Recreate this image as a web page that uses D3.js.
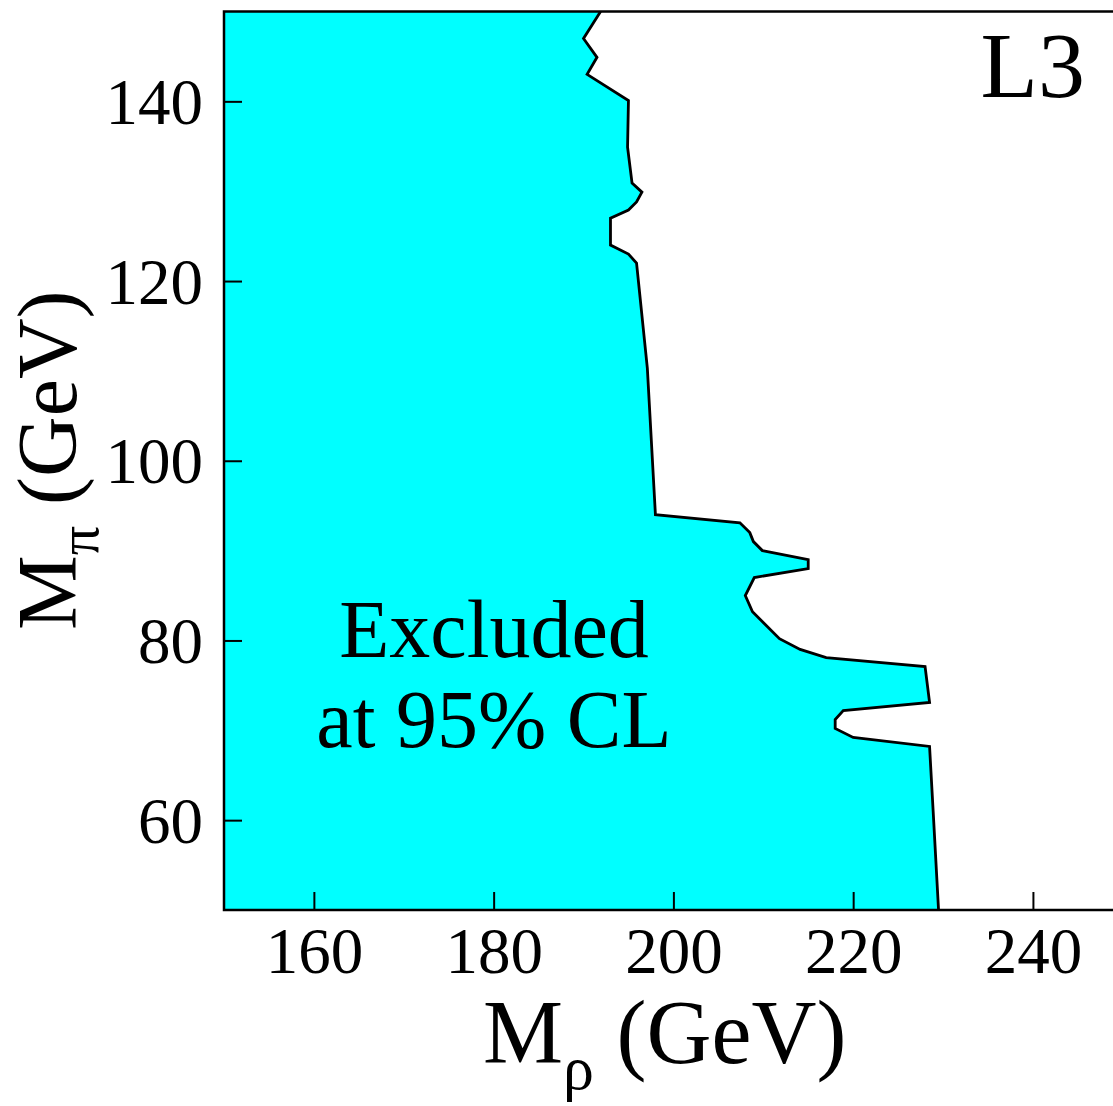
<!DOCTYPE html>
<html>
<head>
<meta charset="utf-8">
<script src="https://cdn.jsdelivr.net/npm/d3@7"></script>
<style>
  body { margin: 0; background: #fff; }
  text { font-family: "Liberation Serif", "Times New Roman", serif; fill: #000; }
</style>
</head>
<body>
<svg width="1113" height="1106"></svg>
<script>
var svg = d3.select("svg"),
    width = +svg.attr("width"),
    height = +svg.attr("height");

// exclusion contour (M_rho, M_pi in GeV)
var boundaryMrho = [191.9, 190.0, 191.5, 190.4, 195.0, 194.9, 195.4, 196.5, 195.9, 195.0,
                    193.0, 193.0, 195.0, 195.9, 197.1, 198.0, 207.4, 208.5, 208.9, 209.9,
                    215.0, 215.0, 209.0, 208.0, 208.8, 211.8, 214.1, 217.0, 228.0, 228.5,
                    218.9, 218.0, 218.0, 220.0, 228.5, 228.9, 229.5];
var boundaryMpi  = [150.0, 147.0, 144.9, 143.0, 140.1, 134.9, 130.9, 129.9, 128.8, 127.9,
                    127.0, 124.0, 123.0, 122.0, 110.3, 94.0, 93.1, 92.0, 91.0, 90.0,
                    89.0, 88.0, 87.0, 85.0, 83.2, 80.2, 79.0, 78.1, 77.1, 73.1,
                    72.2, 71.2, 70.2, 69.2, 68.2, 61.0, 50.0];

var xTicks = [160, 180, 200, 220, 240];
var yTicks = [60, 80, 100, 120, 140];

var xDomain = [150, 250];
var yDomain = [50, 150];

var x = d3.scaleLinear().domain(xDomain).range([224, 1122.8]);
var y = d3.scaleLinear().domain(yDomain).range([910, 11.5]);

var pts = boundaryMrho.map(function(d, i) { return [d, boundaryMpi[i]]; });

var line = d3.line()
    .x(function(d) { return x(d[0]); })
    .y(function(d) { return y(d[1]); });

// filled excluded region: contour closed along the left side
var poly = pts.concat([[xDomain[0], yDomain[0]], [xDomain[0], yDomain[1]]]);

svg.append("path")
    .attr("d", line(poly) + "Z")
    .attr("fill", "#00ffff")
    .attr("stroke", "none");

svg.append("path")
    .attr("d", line(pts))
    .attr("fill", "none")
    .attr("stroke", "#000")
    .attr("stroke-width", 2.8);

// axes: inward ticks, no default domain path
var xAxis = svg.append("g")
    .attr("transform", "translate(0," + y(yDomain[0]) + ")")
    .call(d3.axisBottom(x).tickValues(xTicks).tickSizeInner(-18).tickSizeOuter(0).tickPadding(0));
xAxis.select(".domain").remove();
xAxis.selectAll("line").attr("stroke", "#000").attr("stroke-width", 2);
xAxis.selectAll("text")
    .attr("y", 63)
    .attr("dy", null)
    .attr("font-size", 65)
    .style("font-family", "'Liberation Serif', serif");

var yAxis = svg.append("g")
    .attr("transform", "translate(" + x(xDomain[0]) + ",0)")
    .call(d3.axisLeft(y).tickValues(yTicks).tickSizeInner(-18).tickSizeOuter(0).tickPadding(0));
yAxis.select(".domain").remove();
yAxis.selectAll("line").attr("stroke", "#000").attr("stroke-width", 2);
yAxis.selectAll("text")
    .attr("x", -21)
    .attr("dy", "0.34em")
    .attr("font-size", 65)
    .style("font-family", "'Liberation Serif', serif");

// frame lines (left, bottom, top)
svg.append("path")
    .attr("d", "M" + width + "," + y(yDomain[1]) + "H" + x(xDomain[0]) + "V" + y(yDomain[0]) + "H" + width)
    .attr("fill", "none")
    .attr("stroke", "#000")
    .attr("stroke-width", 2.5);

// labels
svg.append("text")
    .attr("x", 1085).attr("y", 97)
    .attr("text-anchor", "end")
    .attr("font-size", 94)
    .text("L3");

svg.append("text")
    .attr("x", 494).attr("y", 657)
    .attr("text-anchor", "middle")
    .attr("font-size", 82)
    .text("Excluded");

svg.append("text")
    .attr("x", 494).attr("y", 747)
    .attr("text-anchor", "middle")
    .attr("font-size", 82)
    .text("at 95% CL");

var xt = svg.append("text")
    .attr("x", 483).attr("y", 1063)
    .attr("font-size", 90);
xt.append("tspan").text("M");
xt.append("tspan").attr("dy", 26).attr("font-size", 62).text("ρ");
xt.append("tspan").attr("dy", -26).text(" (GeV)");

var yt = svg.append("text")
    .attr("transform", "translate(76,630) rotate(-90)")
    .attr("font-size", 84);
yt.append("tspan").text("M");
yt.append("tspan").attr("dy", 22).attr("font-size", 58).text("π");
yt.append("tspan").attr("dy", -22).text(" (GeV)");
</script>
</body>
</html>
